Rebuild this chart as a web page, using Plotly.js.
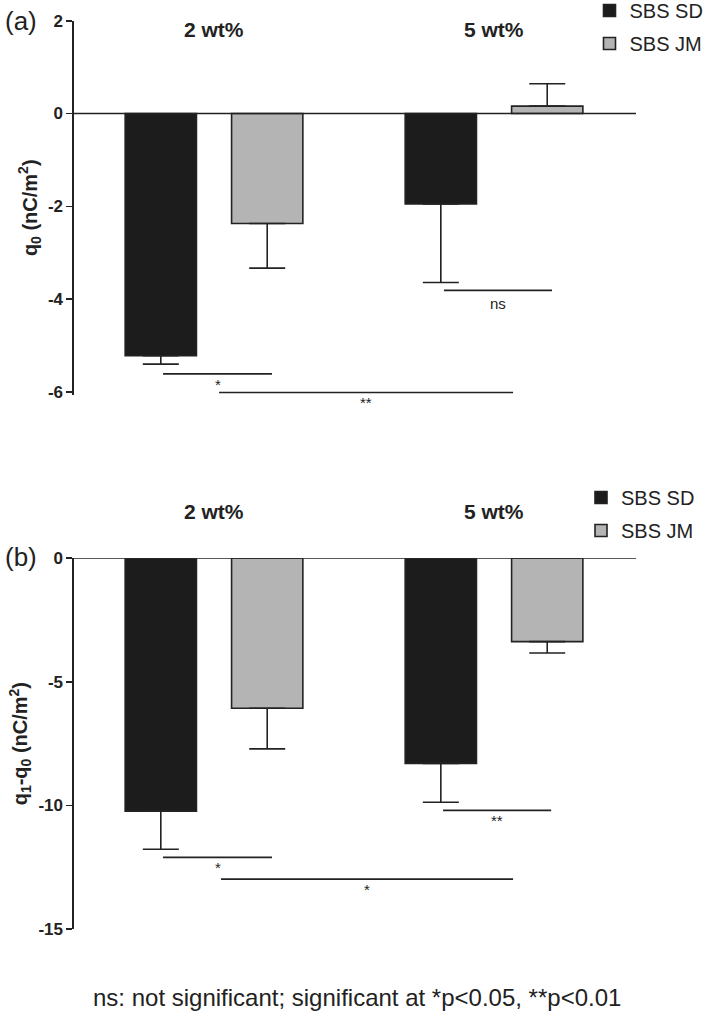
<!DOCTYPE html>
<html>
<head>
<meta charset="utf-8">
<script src="https://cdn.plot.ly/plotly-3.0.1.min.js"></script>
<style>html,body{margin:0;padding:0;background:#fff;}#chart{width:709px;height:1011px;}</style>
</head>
<body>
<div id="chart"></div>
<script>
// ---- data ----
var groupPos = [0, 1];
var groupLabels = ['2 wt%', '5 wt%'];
var seriesNames = ['SBS SD', 'SBS JM'];

// panel (a): q0 (nC/m2)
var q0_SD = [-5.22, -1.95];
var q0_SD_err = [0.18, 1.69];
var q0_JM = [-2.37, 0.16];
var q0_JM_err = [0.96, 0.48];
var ticksA = [-6, -4, -2, 0, 2];
var tickTextA = ['-6', '-4', '-2', '0', '2'];

// panel (b): q1-q0 (nC/m2)
var dq_SD = [-10.23, -8.30];
var dq_SD_err = [1.54, 1.57];
var dq_JM = [-6.07, -3.37];
var dq_JM_err = [1.64, 0.46];
var ticksB = [-15, -10, -5, 0];
var tickTextB = ['-15', '-10', '-5', '0'];

// significance brackets: x0, x1, y, label
var sigA_x0 = [-0.182, 0.018, 0.821];
var sigA_x1 = [0.207, 1.068, 1.207];
var sigA_y = [-5.61, -6.01, -3.81];
var sigA_lab = ['*', '**', 'ns'];

var sigB_x0 = [-0.182, 0.025, 0.818];
var sigB_x1 = [0.207, 1.068, 1.204];
var sigB_y = [-12.10, -12.98, -10.20];
var sigB_lab = ['*', '*', '**'];

var footnote = 'ns: not significant; significant at *p<0.05, **p<0.01';

// ---- styling ----
var FONT = 'Liberation Sans, Arial, Helvetica, sans-serif';
var INK = '#222222';
var COL_SD = '#1c1c1c';
var COL_JM = '#b4b4b4';
var H = 1011, W = 709;
var ML = 74, MR = 73;
var PW = W - ML - MR;

function py(px) { return 1 - px / H; }
function pxX(px) { return (px - ML) / PW; }

function errs(vals, e) {
  return {
    type: 'data', symmetric: false,
    array: vals.map(function (v, i) { return v >= 0 ? e[i] : 0; }),
    arrayminus: vals.map(function (v, i) { return v < 0 ? e[i] : 0; }),
    color: INK, thickness: 1.6, width: 18
  };
}

function barTrace(name, vals, e, color, xa, ya, leg) {
  return {
    type: 'bar', name: name, x: groupPos, y: vals,
    xaxis: xa, yaxis: ya, legend: leg, legendgroup: leg + name,
    marker: {color: color, line: {color: INK, width: 1.6}},
    error_y: errs(vals, e), hoverinfo: 'y'
  };
}

var data = [
  barTrace(seriesNames[0], q0_SD, q0_SD_err, COL_SD, 'x', 'y', 'legend'),
  barTrace(seriesNames[1], q0_JM, q0_JM_err, COL_JM, 'x', 'y', 'legend'),
  barTrace(seriesNames[0], dq_SD, dq_SD_err, COL_SD, 'x2', 'y2', 'legend2'),
  barTrace(seriesNames[1], dq_JM, dq_JM_err, COL_JM, 'x2', 'y2', 'legend2')
];

var shapes = [];
var annotations = [];

// zero lines
[['x', 'y'], ['x2', 'y2']].forEach(function (ax) {
  shapes.push({type: 'line', xref: ax[0], yref: ax[1], x0: -0.5, x1: 1.507, y0: 0, y1: 0,
    line: {color: INK, width: 1.6}});
});

function addSig(x0s, x1s, ys, labs, xa, ya) {
  for (var i = 0; i < ys.length; i++) {
    shapes.push({type: 'line', xref: xa, yref: ya, x0: x0s[i], x1: x1s[i], y0: ys[i], y1: ys[i],
      line: {color: INK, width: 1.6}});
    annotations.push({xref: xa, yref: ya, x: (x0s[i] + x1s[i]) / 2, y: ys[i], text: labs[i],
      showarrow: false, yanchor: 'top', yshift: labs[i] === 'ns' ? -3 : 0,
      font: {family: FONT, size: 15, color: INK}});
  }
}
addSig(sigA_x0, sigA_x1, sigA_y, sigA_lab, 'x', 'y');
addSig(sigB_x0, sigB_x1, sigB_y, sigB_lab, 'x2', 'y2');

// group labels
groupPos.forEach(function (g, i) {
  annotations.push({xref: 'x', yref: 'paper', x: g, y: py(29), text: '<b>' + groupLabels[i] + '</b>',
    showarrow: false, yanchor: 'middle', font: {family: FONT, size: 21, color: INK}});
  annotations.push({xref: 'x2', yref: 'paper', x: g, y: py(511), text: '<b>' + groupLabels[i] + '</b>',
    showarrow: false, yanchor: 'middle', font: {family: FONT, size: 21, color: INK}});
});

// panel labels
annotations.push({xref: 'paper', yref: 'paper', x: pxX(3), y: py(21), text: '(a)', showarrow: false,
  xanchor: 'left', yanchor: 'middle', font: {family: FONT, size: 26, color: INK}});
annotations.push({xref: 'paper', yref: 'paper', x: pxX(3), y: py(557), text: '(b)', showarrow: false,
  xanchor: 'left', yanchor: 'middle', font: {family: FONT, size: 26, color: INK}});

// footnote
annotations.push({xref: 'paper', yref: 'paper', x: pxX(357), y: py(997), text: footnote, showarrow: false,
  xanchor: 'center', yanchor: 'middle', font: {family: FONT, size: 24, color: INK}});

var xaxisCommon = {
  range: [-0.5, 1.507], showgrid: false, zeroline: false, showline: false,
  showticklabels: false, ticks: '', fixedrange: true
};
var yaxisCommon = {
  showgrid: false, zeroline: false, showline: true, linecolor: INK, linewidth: 1.6,
  ticks: 'outside', ticklen: 6, tickwidth: 1.6, tickcolor: INK, tickmode: 'array',
  tickfont: {family: FONT, size: 17, color: INK},
  automargin: false, fixedrange: true
};

function boldArr(a) { return a.map(function (t) { return '<b>' + t + '</b>'; }); }

var layout = {
  width: W, height: H,
  margin: {l: ML, r: MR, t: 0, b: 0, autoexpand: false},
  paper_bgcolor: '#fff', plot_bgcolor: 'rgba(0,0,0,0)',
  barmode: 'group', bargap: 0.24, bargroupgap: 0.33,
  font: {family: FONT, color: INK},
  xaxis: Object.assign({}, xaxisCommon, {domain: [0, 1], anchor: 'y'}),
  xaxis2: Object.assign({}, xaxisCommon, {domain: [0, 1], anchor: 'y2'}),
  yaxis: Object.assign({}, yaxisCommon, {
    domain: [py(394.8), py(20.7)], range: [-6.06, 2], anchor: 'x',
    tickvals: ticksA, ticktext: boldArr(tickTextA),
    title: {text: '<b>q<sub>0</sub> (nC/m<sup>2</sup>)</b>', font: {family: FONT, size: 20, color: INK}, standoff: 5}
  }),
  yaxis2: Object.assign({}, yaxisCommon, {
    domain: [py(929), py(558.3)], range: [-15, 0], anchor: 'x2',
    tickvals: ticksB, ticktext: boldArr(tickTextB),
    title: {text: '<b>q<sub>1</sub>-q<sub>0</sub> (nC/m<sup>2</sup>)</b>', font: {family: FONT, size: 20, color: INK}, standoff: 5}
  }),
  legend: {x: pxX(589.5), y: py(-9), xanchor: 'left', yanchor: 'top', bgcolor: 'rgba(0,0,0,0)',
    font: {family: FONT, size: 20, color: INK}, tracegroupgap: 4, traceorder: 'grouped'},
  legend2: {x: pxX(581), y: py(478), xanchor: 'left', yanchor: 'top', bgcolor: 'rgba(0,0,0,0)',
    font: {family: FONT, size: 20, color: INK}, tracegroupgap: 4, traceorder: 'grouped'},
  showlegend: true,
  shapes: shapes,
  annotations: annotations
};

Plotly.newPlot('chart', data, layout, {displayModeBar: false, staticPlot: true});
</script>
</body>
</html>
